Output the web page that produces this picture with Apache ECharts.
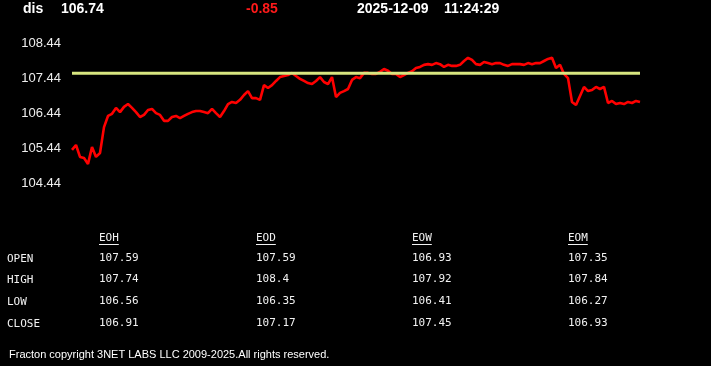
<!DOCTYPE html>
<html>
<head>
<meta charset="utf-8">
<script src="https://cdn.jsdelivr.net/npm/echarts@6/dist/echarts.min.js"></script>
<style>
html,body{margin:0;padding:0;background:#000;}
#chart{width:711px;height:366px;}
</style>
</head>
<body>
<div id="chart"></div>
<script>
// ---- data ----
var symbol = 'dis';
var lastPrice = '106.74';
var change = '-0.85';
var dateStr = '2025-12-09';
var timeStr = '11:24:29';
var openLevel = 107.59;
var yTicks = [104.44, 105.44, 106.44, 107.44, 108.44];

var prices = [
  105.40, 105.54, 105.20, 105.17, 105.00, 105.48, 105.20, 105.31, 106.05, 106.37,
  106.43, 106.60, 106.48, 106.63, 106.71, 106.60, 106.48, 106.34, 106.40, 106.54,
  106.57, 106.45, 106.40, 106.23, 106.23, 106.34, 106.37, 106.31, 106.37, 106.43,
  106.48, 106.51, 106.51, 106.48, 106.45, 106.57, 106.45, 106.34, 106.51, 106.71,
  106.77, 106.74, 106.83, 106.97, 107.08, 106.88, 106.88, 106.83, 107.25, 107.17,
  107.25, 107.37, 107.48, 107.51, 107.54, 107.60, 107.51, 107.43, 107.37, 107.31,
  107.28, 107.37, 107.48, 107.34, 107.28, 107.48, 106.91, 107.03, 107.08, 107.14,
  107.40, 107.48, 107.45, 107.60, 107.60, 107.57, 107.57, 107.63, 107.71, 107.66,
  107.57, 107.57, 107.48, 107.54, 107.60, 107.65, 107.74, 107.77, 107.83, 107.85,
  107.83, 107.88, 107.85, 107.77, 107.83, 107.80, 107.80, 107.83, 107.94, 108.03,
  107.97, 107.85, 107.83, 107.91, 107.88, 107.85, 107.88, 107.88, 107.83, 107.80,
  107.85, 107.85, 107.85, 107.83, 107.88, 107.85, 107.88, 107.88, 107.94, 108.00,
  108.03, 107.74, 107.83, 107.57, 107.45, 106.77, 106.68, 106.94, 107.20, 107.08,
  107.11, 107.20, 107.14, 107.20, 106.74, 106.80, 106.71, 106.74, 106.71, 106.77,
  106.74, 106.80, 106.77
];

var tableCols = ['EOH', 'EOD', 'EOW', 'EOM'];
var rowLabels = ['OPEN', 'HIGH', 'LOW', 'CLOSE'];
var openVals  = ['107.59', '107.59', '106.93', '107.35'];
var highVals  = ['107.74', '108.4',  '107.92', '107.84'];
var lowVals   = ['106.56', '106.35', '106.41', '106.27'];
var closeVals = ['106.91', '107.17', '107.45', '106.93'];
var footer = 'Fracton copyright 3NET LABS LLC 2009-2025.All rights reserved.';

// ---- build ----
var cats = prices.map(function (_, i) { return i; });
var openLine = prices.map(function () { return openLevel; });

var hdrFont = 'bold 14px Arial, "Liberation Sans", sans-serif';
var monoFont = '11px "DejaVu Sans Mono", "Liberation Mono", monospace';
var graphics = [];
function txt(x, y, s, font, color) {
  graphics.push({type: 'text', x: x, y: y, style: {text: s, font: font, fill: color, textVerticalAlign: 'middle', textAlign: 'left'}});
}
txt(23, 9, symbol, hdrFont, '#ffffff');
txt(61, 9, lastPrice, hdrFont, '#ffffff');
txt(246, 9, change, hdrFont, '#ff1a1a');
txt(357, 9, dateStr, hdrFont, '#ffffff');
txt(444, 9, timeStr, hdrFont, '#ffffff');

var colX = [99, 256, 412, 568];
var rowY = [259, 280, 302, 324];
var rowsVals = [openVals, highVals, lowVals, closeVals];
tableCols.forEach(function (c, i) {
  txt(colX[i], 238, c, monoFont, '#f2f2f2');
  graphics.push({type: 'line', shape: {x1: colX[i], y1: 244.5, x2: colX[i] + c.length * 6.6, y2: 244.5}, style: {stroke: '#f2f2f2', lineWidth: 1}});
});
rowLabels.forEach(function (r, j) {
  txt(7, rowY[j], r, monoFont, '#f2f2f2');
  rowsVals[j].forEach(function (v, i) {
    txt(colX[i], rowY[j] - 1, v, monoFont, '#f2f2f2');
  });
});
txt(9, 355, footer, '11px Arial, "Liberation Sans", sans-serif', '#ffffff');

var chart = echarts.init(document.getElementById('chart'));
chart.setOption({
  backgroundColor: '#000000',
  animation: false,
  grid: {left: 72, right: 71, top: 43.5, bottom: 182.5},
  xAxis: {type: 'category', data: cats, boundaryGap: false, show: false},
  yAxis: {
    type: 'value', min: yTicks[0], max: yTicks[yTicks.length - 1], interval: 1,
    axisLine: {show: false}, axisTick: {show: false}, splitLine: {show: false},
    axisLabel: {
      color: '#eeeeee', fontSize: 13, fontFamily: 'Arial, "Liberation Sans", sans-serif', margin: 11,
      formatter: function (v) { return v.toFixed(2); }
    }
  },
  series: [
    {type: 'line', data: prices, symbol: 'none', lineStyle: {color: '#ff0000', width: 2.6}, z: 2},
    {type: 'line', data: openLine, symbol: 'none', lineStyle: {color: '#d8e680', width: 3}, z: 3}
  ],
  graphic: graphics
});
</script>
</body>
</html>
